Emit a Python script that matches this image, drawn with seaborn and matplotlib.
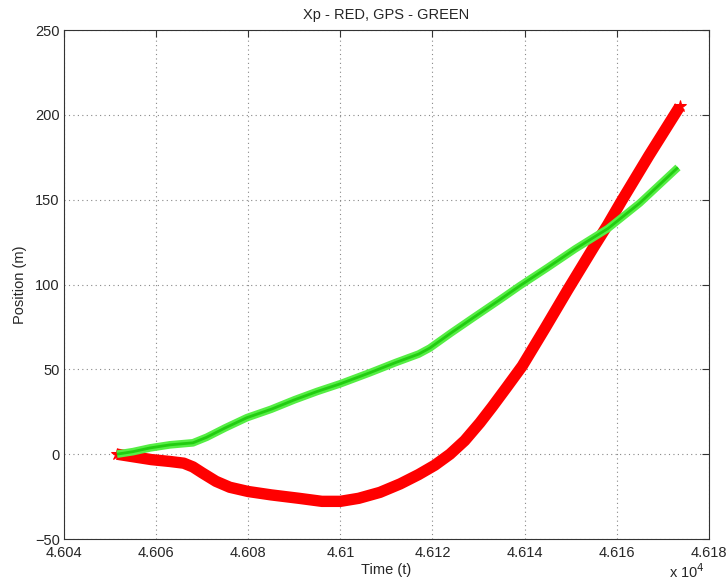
import numpy as np
import pandas as pd
import matplotlib
matplotlib.use("Agg")
import matplotlib.pyplot as plt
from matplotlib.ticker import FuncFormatter, MultipleLocator
import seaborn as sns

# Xp (red) trace
red_t = [46051.5, 46055, 46059, 46063, 46066, 46068, 46070, 46073, 46076, 46080,
         46085, 46091, 46096, 46100, 46104, 46108.6, 46113, 46117, 46120.5, 46123.8,
         46127, 46130.3, 46133, 46136, 46139.5, 46144.5, 46149.4, 46155, 46158,
         46161, 46167, 46173.7]
red_pos = [0, -1.5, -3.2, -4.3, -5.3, -7.5, -11, -16, -19.5, -22,
           -24, -26, -27.8, -27.8, -26, -22.5, -17.5, -12, -6.5, 0,
           8, 18.5, 28, 39, 52, 74.5, 97, 122, 135,
           149, 176, 205]

# GPS (green) trace
gps_t = [46051.5, 46055, 46058.7, 46063, 46068, 46071, 46075, 46079.7, 46085, 46090,
         46095, 46100, 46106.4, 46112, 46117, 46119.4, 46124, 46129, 46134.6, 46139,
         46145, 46151, 46158.1, 46165, 46173.3]
gps_pos = [0, 1.5, 3.7, 5.5, 6.7, 10, 15.5, 21.5, 26.5, 32,
           37, 41.5, 48, 54, 59, 62.5, 71.4, 80.7, 91, 99.3,
           110, 121, 133, 148, 169]

x_ticks = [46040, 46060, 46080, 46100, 46120, 46140, 46160, 46180]

sns.set_style("white")
plt.rcParams['font.family'] = ['Liberation Sans', 'DejaVu Sans']

fig = plt.figure(figsize=(7.27, 5.85), dpi=100)
ax = fig.add_axes([0.088, 0.0786, 0.887, 0.8701])

red_df = pd.DataFrame({"t": red_t, "pos": red_pos})
gps_df = pd.DataFrame({"t": gps_t, "pos": gps_pos})

sns.lineplot(data=red_df, x="t", y="pos", sort=False, ax=ax, color="#ff0000",
             linewidth=8.2, solid_capstyle="butt", solid_joinstyle="round")
sns.lineplot(data=red_df.iloc[[0, -1]], x="t", y="pos", sort=False, ax=ax,
             color="#ff0000", linewidth=0, marker="*", markersize=9,
             markeredgecolor="#ff0000")
sns.lineplot(data=gps_df, x="t", y="pos", sort=False, ax=ax, color="#55ee44",
             linewidth=5.5, solid_capstyle="butt", solid_joinstyle="round")
sns.lineplot(data=gps_df, x="t", y="pos", sort=False, ax=ax, color="#22cc11",
             linewidth=2.0, solid_capstyle="butt", solid_joinstyle="round")

ax.set_xlim(46040, 46180)
ax.set_ylim(-50, 250)
ax.set_xticks(x_ticks)
ax.yaxis.set_major_locator(MultipleLocator(50))
ax.xaxis.set_major_formatter(FuncFormatter(lambda v, p: "%g" % round(v / 1e4, 4)))

ax.grid(True, linestyle=(0, (1, 3)), color="#888888", linewidth=0.8)
ax.tick_params(direction="in", length=5, labelsize=10.5, top=True, right=True,
               labeltop=False, labelright=False, width=0.8, color="#333333")
ax.tick_params(axis="x", pad=5)
ax.tick_params(axis="y", pad=3)
for s in ax.spines.values():
    s.set_color("#333333")
    s.set_linewidth(0.8)

ax.set_title("Xp - RED, GPS - GREEN", fontsize=10.5, pad=8)
ax.set_xlabel("Time (t)", fontsize=10.5, labelpad=2)
ax.set_ylabel("Position (m)", fontsize=10.5, labelpad=6)
fig.text(0.97, 0.006, r"x 10$^4$", ha="right", va="bottom", fontsize=10.5)

fig.savefig("out.png", dpi=100)
